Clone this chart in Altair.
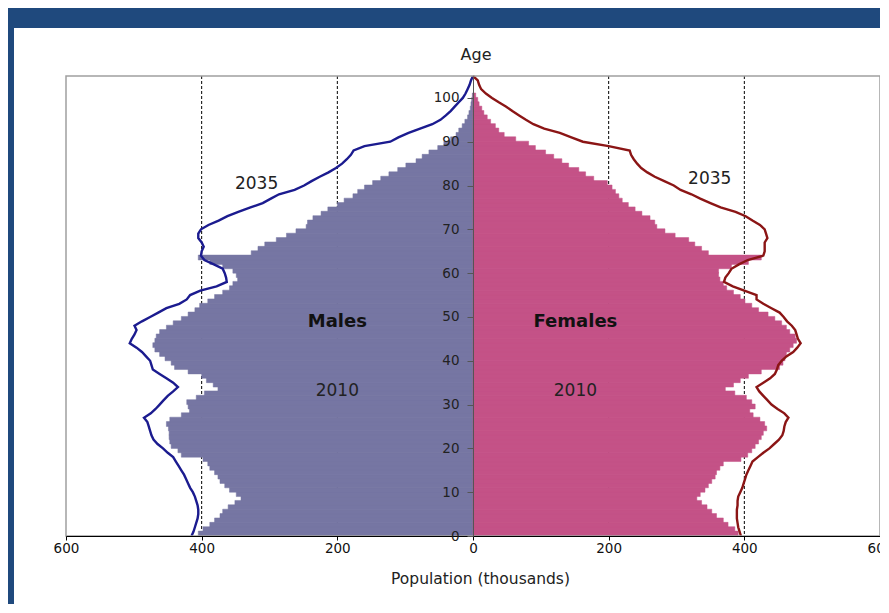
import altair as alt
import pandas as pd

# ---- data (thousands) ----
ages = list(range(0, 101))
male_2010 = [405, 398, 388, 381, 373, 369, 361, 351, 342, 349,
             359, 366, 373, 376, 381, 388, 391, 398, 430, 435,
             445, 447, 448, 448, 449, 452, 447, 430, 418, 420,
             422, 408, 396, 376, 383, 393, 400, 420, 440, 445,
             454, 462, 469, 472, 469, 467, 462, 452, 442, 430,
             420, 410, 403, 391, 381, 369, 359, 354, 347, 349,
             354, 369, 388, 405, 327, 317, 307, 290, 275, 261,
             246, 244, 236, 224, 214, 200, 190, 177, 170, 160,
             148, 136, 124, 111, 99, 84, 75, 65, 52, 43,
             33, 25, 21, 16, 12, 8, 6, 4, 3, 2, 1]
female_2010 = [391, 386, 376, 369, 359, 352, 345, 337, 330, 335,
               342, 347, 352, 357, 359, 364, 369, 395, 405, 411,
               416, 421, 425, 428, 433, 430, 423, 413, 408, 416,
               411, 403, 386, 372, 384, 394, 406, 425, 452, 457,
               460, 462, 467, 472, 477, 475, 467, 462, 455, 445,
               435, 421, 411, 401, 394, 384, 374, 369, 364, 362,
               362, 381, 406, 425, 347, 337, 327, 318, 298, 283,
               271, 268, 261, 249, 239, 229, 220, 215, 210, 205,
               198, 178, 166, 156, 141, 131, 119, 107, 92, 82,
               63, 46, 38, 33, 26, 21, 16, 13, 9, 7, 4]

line_ages = list(range(0, 106))
male_2035 = [415, 412, 410, 408, 406, 405, 405, 406, 408, 410,
             413, 417, 420, 423, 426, 430, 434, 438, 442, 450,
             457, 465, 471, 474, 476, 478, 480, 485, 475, 468,
             462, 456, 450, 442, 435, 442, 452, 462, 472, 474,
             476, 482, 488, 496, 506, 503, 499, 496, 499, 488,
             476, 464, 452, 433, 422, 417, 402, 378, 363, 364,
             366, 369, 382, 396, 401, 400, 397, 400, 405, 405,
             401, 390, 375, 362, 346, 328, 310, 298, 286, 263,
             249, 238, 226, 213, 202, 193, 186, 180, 176, 160,
             122, 110, 95, 78, 60, 48, 40, 33, 27, 21,
             15, 11, 8, 5, 3, 0]
female_2035 = [395, 393, 391, 390, 389, 389, 389, 390, 390, 391,
               394, 397, 399, 401, 403, 406, 409, 412, 420, 428,
               437, 444, 451, 456, 458, 459, 461, 465, 459, 449,
               440, 434, 428, 422, 418, 428, 438, 445, 448, 450,
               455, 462, 472, 478, 483, 479, 477, 475, 470, 463,
               458, 452, 440, 428, 418, 418, 400, 383, 370, 372,
               377, 381, 392, 405, 428, 430, 430, 430, 434, 432,
               430, 423, 412, 402, 387, 365, 350, 335, 322, 306,
               296, 282, 268, 257, 248, 242, 237, 233, 231, 200,
               162, 145, 128, 105, 89, 78, 68, 58, 49, 38,
               28, 19, 12, 9, 7, 0]

x_ticks = [-600, -400, -200, 0, 200, 400, 600]
grid_values = [-400, -200, 200, 400]
y_ticks = list(range(0, 101, 10))

ann_labels = ["2035", "2035", "2010", "2010"]
ann_x = [-319, 349, -200, 151]
ann_y = [80.4, 81.6, 33.1, 33.1]
bold_labels = ["Males", "Females"]
bold_x = [-200, 151]
bold_y = [48.8, 48.8]

# ---- layout ----
W, H = 814, 460
FONT = "DejaVu Sans"
BLUE_BG = "#1F497D"

bars_df = pd.DataFrame({
    "age": ages + ages,
    "sex": ["Males"] * len(ages) + ["Females"] * len(ages),
    "value": [-v for v in male_2010] + female_2010,
})
bars_df["age_top"] = bars_df["age"] + 1.12
bars_df["zero"] = 0

lines_df = pd.DataFrame({
    "age": line_ages + line_ages,
    "sex": ["Males"] * len(line_ages) + ["Females"] * len(line_ages),
    "value": [-v for v in male_2035] + female_2035,
})

xscale = alt.Scale(domain=[-600, 600], nice=False, zero=False)
yscale = alt.Scale(domain=[0, 105], nice=False, zero=False)

x_axis = alt.Axis(
    values=x_ticks, labelExpr="abs(datum.value)",
    title="Population (thousands)", grid=False, labelFlush=False,
    labelOverlap=False,
    tickSize=4, labelPadding=1, domainColor="black", tickColor="black",
    labelColor="#111", labelFont=FONT, labelFontSize=13.5,
    titleFont=FONT, titleFontSize=15.5, titleFontWeight="normal",
    titleColor="#222", titleY=35, titleX=W / 2 + 7, titleBaseline="top",
    zindex=1)
y_axis = alt.Axis(
    values=y_ticks, title=None, orient="left", offset=-W / 2,
    grid=False, tickSize=6, labelPadding=8, labelFlush=False,
    domainColor="#555", tickColor="#555", labelColor="#222",
    labelFont=FONT, labelFontSize=13.5, zindex=1)

one = pd.DataFrame({"k": [0]})

band_top = alt.Chart(one).mark_rect(color=BLUE_BG).encode(
    x=alt.value(-60), x2=alt.value(W + 40),
    y=alt.value(-70), y2=alt.value(-48),
)
band_left = alt.Chart(one).mark_rect(color=BLUE_BG).encode(
    x=alt.value(-60), x2=alt.value(-52),
    y=alt.value(-70), y2=alt.value(H + 120),
)

rules = alt.Chart(pd.DataFrame({"value": grid_values})).mark_rule(
    color="black", strokeDash=[3, 2], strokeWidth=1
).encode(
    x=alt.X("value:Q", scale=xscale, axis=x_axis),
    y=alt.value(0), y2=alt.value(H),
)

sex_dom = ["Males", "Females"]
bars = alt.Chart(bars_df).mark_rect(strokeWidth=0.5).encode(
    x=alt.X("value:Q", scale=xscale, axis=x_axis),
    x2="zero:Q",
    y=alt.Y("age:Q", scale=yscale, axis=y_axis),
    y2="age_top:Q",
    color=alt.Color("sex:N", scale=alt.Scale(domain=sex_dom,
                                             range=["#7676A3", "#C45287"]), legend=None),
    stroke=alt.Stroke("sex:N", scale=alt.Scale(domain=sex_dom,
                                               range=["#7676A3", "#C45287"]), legend=None),
)

lines = alt.Chart(lines_df).mark_line(strokeWidth=2.4).encode(
    x=alt.X("value:Q", scale=xscale, axis=x_axis),
    y=alt.Y("age:Q", scale=yscale, axis=y_axis),
    order=alt.Order("age:Q"),
    detail="sex:N",
    color=alt.Color("sex:N", scale=alt.Scale(domain=sex_dom,
                                             range=["#1B1B8F", "#8B1515"]), legend=None),
)

ann = alt.Chart(pd.DataFrame({"t": ann_labels, "value": ann_x, "age": ann_y})).mark_text(
    font=FONT, fontSize=17, color="#222", align="center", baseline="middle"
).encode(
    x=alt.X("value:Q", scale=xscale, axis=x_axis),
    y=alt.Y("age:Q", scale=yscale, axis=y_axis),
    text="t:N",
)

bold = alt.Chart(pd.DataFrame({"t": bold_labels, "value": bold_x, "age": bold_y})).mark_text(
    font=FONT, fontSize=18, fontWeight="bold", color="#111", align="center", baseline="middle"
).encode(
    x=alt.X("value:Q", scale=xscale, axis=x_axis),
    y=alt.Y("age:Q", scale=yscale, axis=y_axis),
    text="t:N",
)

age_title = alt.Chart(pd.DataFrame({"t": ["Age"]})).mark_text(
    font=FONT, fontSize=16, color="#222", align="center", baseline="alphabetic"
).encode(
    x=alt.value(W / 2 + 3), y=alt.value(-16), text="t:N",
)

frame = alt.Chart(one).mark_rect(filled=False, stroke="#A0A0A0", strokeWidth=1.5).encode(
    x=alt.value(0), x2=alt.value(W), y=alt.value(0), y2=alt.value(H),
)

chart = alt.layer(band_top, band_left, rules, bars, lines, ann, bold, age_title, frame).resolve_scale(
    color="independent"
).properties(
    width=W, height=H,
    padding={"left": 58, "top": 68, "right": 0, "bottom": 68},
    autosize=alt.AutoSizeParams(type="none"),
    background="white",
).configure_view(stroke=None)

chart.save("out.html", embed_options={"renderer": "svg", "actions": False})
